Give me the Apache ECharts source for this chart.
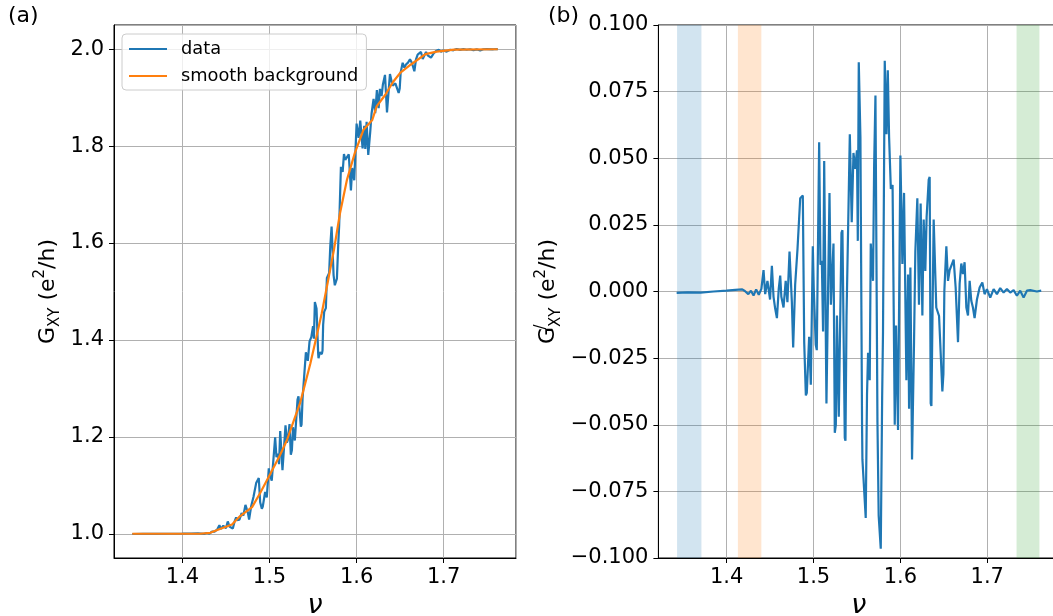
<!DOCTYPE html>
<html><head><meta charset="utf-8">
<script src="https://cdn.jsdelivr.net/npm/echarts@6/dist/echarts.min.js"></script>
<style>html,body{margin:0;padding:0;background:#fff}#c{width:1053px;height:616px}</style>
</head><body><div id="c"></div>
<script>
// filling factor samples (shared by data and fluctuation)
const nu = [1.3425,1.355,1.37,1.385,1.40,1.41,1.418,1.421,1.425,1.428,1.431,1.434,1.437,1.440,1.4425,1.4444,1.447,1.450,1.4521,1.454,1.4559,1.4579,1.460,1.4617,1.463,1.4655,1.468,1.470,1.4724,1.4751,1.4766,1.4789,1.4816,1.4847,1.4877,1.4893,1.4912,1.4923,1.4950,1.4969,1.4992,1.5003,1.5026,1.5038,1.5065,1.5080,1.5096,1.5110,1.5123,1.5149,1.5153,1.5184,1.5200,1.5211,1.5230,1.5245,1.5257,1.5270,1.5291,1.5322,1.5333,1.5360,1.5368,1.5380,1.5418,1.5440,1.5460,1.5480,1.5500,1.5510,1.5521,1.5540,1.5559,1.5563,1.5578,1.5601,1.5609,1.5616,1.5628,1.5647,1.5659,1.5685,1.5698,1.5713,1.5736,1.5750,1.5774,1.5790,1.5800,1.5820,1.5840,1.5855,1.5870,1.5890,1.5910,1.5935,1.5950,1.5973,1.6000,1.6023,1.6042,1.6069,1.6088,1.6100,1.6115,1.6134,1.6146,1.6157,1.6172,1.6195,1.6214,1.6233,1.6253,1.6268,1.6287,1.6302,1.6326,1.6337,1.6349,1.6357,1.6383,1.6395,1.6413,1.6445,1.6483,1.6490,1.6495,1.6506,1.6529,1.6548,1.6567,1.6590,1.6613,1.6636,1.6663,1.6682,1.6701,1.6720,1.6739,1.6759,1.6778,1.6797,1.6816,1.6835,1.6854,1.6881,1.6912,1.6943,1.6969,1.6996,1.7034,1.7073,1.7111,1.7149,1.7188,1.7226,1.7264,1.7303,1.7341,1.7379,1.7418,1.7456,1.7494,1.7571,1.7621];
// panel (a): measured G_XY
const gData = [0.9995,0.9997,0.9996,1.0000,1.0003,1.0006,1.0008,1.0004,0.9998,1.0016,1.0003,1.0043,1.0044,1.0088,1.0176,1.0099,1.0166,1.0115,1.0255,1.0151,1.0119,1.0107,1.0257,1.0339,1.0283,1.0291,1.0427,1.0374,1.0597,1.0443,1.0294,1.0561,1.0760,1.1046,1.1150,1.0650,1.0515,1.0563,1.0865,1.0750,1.1349,1.1226,1.1095,1.1117,1.1990,1.1582,1.1652,1.1436,1.2122,1.1312,1.1327,1.2238,1.1880,1.1936,1.2264,1.1631,1.1722,1.2199,1.1925,1.2770,1.2835,1.2208,1.2253,1.2799,1.3746,1.3570,1.3970,1.4059,1.4286,1.4024,1.4781,1.4650,1.3712,1.3624,1.3744,1.3709,1.3784,1.4314,1.4581,1.4656,1.5281,1.5384,1.5940,1.6342,1.5333,1.5129,1.5264,1.6003,1.6362,1.7572,1.7469,1.7838,1.7718,1.7695,1.7832,1.7085,1.7549,1.7297,1.8466,1.8169,1.8528,1.7954,1.8420,1.7940,1.8500,1.7818,1.7842,1.8304,1.8674,1.8974,1.8680,1.9157,1.8785,1.9181,1.9034,1.9273,1.9470,1.9511,1.8697,1.8711,1.9489,1.9525,1.9249,1.9294,1.9097,1.9118,1.9189,1.9522,1.9721,1.9618,1.9685,1.9723,1.9790,1.9716,1.9546,1.9790,1.9890,1.9874,1.9944,1.9800,1.9794,1.9943,1.9875,1.9857,1.9825,1.9905,1.9962,1.9989,1.9950,1.9974,1.9950,1.9990,1.9978,2.0004,1.9987,2.0001,1.9989,1.9999,1.9978,1.9998,1.9973,2.0000,2.0002,1.9999,2.0003];
// panel (b): fluctuation G'_XY
const gPrime = [-0.0005,-0.0003,-0.0004,0.0000,0.0003,0.0006,0.0008,0.0002,-0.0010,0.0003,-0.0015,0.0008,-0.0012,0.0010,0.0080,-0.0010,0.0040,-0.0030,0.0096,-0.0020,-0.0064,-0.0100,0.0010,0.0060,-0.0020,-0.0060,0.0040,-0.0040,0.0150,-0.0040,-0.0210,0.0026,0.0160,0.0350,0.0360,-0.0190,-0.0390,-0.0380,-0.0170,-0.0350,0.0170,0.0010,-0.0200,-0.0220,0.0560,0.0100,0.0115,-0.0150,0.0490,-0.0420,-0.0420,0.0370,-0.0050,-0.0050,0.0180,-0.0530,-0.0500,-0.0090,-0.0470,0.0220,0.0230,-0.0550,-0.0560,-0.0096,0.0590,0.0260,0.0520,0.0460,0.0530,0.0190,0.0860,0.0580,-0.0510,-0.0630,-0.0630,-0.0850,-0.0850,-0.0385,-0.0230,-0.0333,0.0180,0.0040,0.0474,0.0735,-0.0490,-0.0840,-0.0965,-0.0400,-0.0150,0.0866,0.0590,0.0830,0.0580,0.0385,0.0400,-0.0500,-0.0128,-0.0520,0.0510,0.0103,0.0370,-0.0333,0.0064,-0.0440,0.0090,-0.0630,-0.0630,-0.0190,0.0150,0.0350,-0.0050,0.0330,-0.0090,0.0270,0.0077,0.0280,0.0420,0.0430,-0.0420,-0.0430,0.0270,0.0270,-0.0060,-0.0092,-0.0375,-0.0370,-0.0310,0.0003,0.0170,0.0040,0.0080,0.0085,0.0120,0.0015,-0.0190,0.0030,0.0105,0.0065,0.0110,-0.0060,-0.0090,0.0040,-0.0035,-0.0060,-0.0100,-0.0030,0.0015,0.0034,-0.0010,0.0009,-0.0023,0.0009,-0.0010,0.0013,-0.0004,0.0009,-0.0004,0.0005,-0.0016,0.0003,-0.0023,0.0003,0.0005,0.0000,0.0003];
// smooth background curve
const bgNu = [1.3425,1.420,1.432,1.443,1.457,1.466,1.480,1.489,1.501,1.512,1.520,1.528,1.535,1.541,1.547,1.554,1.560,1.566,1.574,1.581,1.589,1.598,1.608,1.618,1.623,1.633,1.642,1.650,1.662,1.679,1.692,1.712,1.7621];
const bgG = [1.000,1.000,1.002,1.010,1.019,1.036,1.055,1.083,1.124,1.162,1.193,1.234,1.269,1.310,1.352,1.407,1.455,1.511,1.586,1.662,1.731,1.786,1.834,1.854,1.882,1.906,1.933,1.951,1.968,1.990,1.995,1.999,2.000];
// shaded windows in panel (b)
const bandStart = [1.343, 1.413, 1.7337];
const bandEnd = [1.371, 1.440, 1.760];
const bandColors = ['rgba(31,119,180,0.2)','rgba(255,127,14,0.2)','rgba(44,160,44,0.2)'];

const FONT = 'DejaVu Sans';
const chart = echarts.init(document.getElementById('c'));
const axisLabelStyle = {fontFamily: FONT, fontSize: 21, color: '#000'};
function xAx(gi){
  return {type:'value', gridIndex:gi, min:1.3215, max:1.783, splitNumber:5,
    name:'ν', nameLocation:'middle', nameGap:31,
    nameTextStyle:{fontFamily:FONT, fontSize:27, fontStyle:'italic', color:'#000'},
    axisLine:{show:true, onZero:false, lineStyle:{color:'#000', width:1}},
    axisTick:{show:true, length:5, lineStyle:{color:'#000'}},
    axisLabel:Object.assign({margin:9, showMinLabel:false, showMaxLabel:false, formatter:v=>v.toFixed(1)}, axisLabelStyle),
    splitLine:{show:true, lineStyle:{color:'#b0b0b0', width:1}}};
}
const richY = {
  g:{fontFamily:FONT, fontSize:22, color:'#000', lineHeight:30},
  n:{fontFamily:FONT, fontSize:22, color:'#000', lineHeight:30},
  sub:{fontFamily:FONT, fontSize:15, color:'#000', verticalAlign:'bottom', lineHeight:15},
  sup:{fontFamily:FONT, fontSize:15, color:'#000', verticalAlign:'top', lineHeight:15},
  supz:{fontFamily:FONT, fontSize:15, color:'#000', verticalAlign:'top', lineHeight:15, width:0}
};
const option = {
  animation:false,
  backgroundColor:'#fff',
  title:[
    {text:'(a)', left:3, top:0, textStyle:{fontFamily:FONT, fontSize:22, fontWeight:'normal', color:'#000'}},
    {text:'(b)', left:543, top:0, textStyle:{fontFamily:FONT, fontSize:22, fontWeight:'normal', color:'#000'}}
  ],
  legend:{
    data:['data','smooth background'], orient:'vertical', left:122, top:34,
    icon:'rect', itemWidth:38, itemHeight:2, itemGap:9,
    padding:[6,8,5,7], borderColor:'#cccccc', borderWidth:1, borderRadius:4,
    backgroundColor:'rgba(255,255,255,0.8)',
    textStyle:{fontFamily:FONT, fontSize:17.8, color:'#000', padding:[0,0,0,9]}
  },
  grid:[
    {left:114, top:25, width:402, height:533, show:true, borderColor:'#000', borderWidth:1, backgroundColor:'transparent', outerBoundsMode:'none', containLabel:false},
    {left:658.4, top:25, width:401, height:533, show:true, borderColor:'#000', borderWidth:1, backgroundColor:'transparent', outerBoundsMode:'none', containLabel:false}
  ],
  xAxis:[xAx(0), xAx(1)],
  yAxis:[
    {type:'value', gridIndex:0, min:0.95, max:2.05, splitNumber:5,
     name:'{g|G}{sub|XY}{n| (e}{sup|2}{n|/h)}', nameLocation:'middle', nameGap:51,
     nameTextStyle:{rich:richY},
     axisLine:{show:true, onZero:false, lineStyle:{color:'#000'}},
     axisTick:{show:true, length:5, lineStyle:{color:'#000'}},
     axisLabel:Object.assign({margin:10, showMinLabel:false, showMaxLabel:false, formatter:v=>v.toFixed(1)}, axisLabelStyle),
     splitLine:{show:true, lineStyle:{color:'#b0b0b0', width:1}}},
    {type:'value', gridIndex:1, min:-0.1, max:0.1, interval:0.025,
     name:'{g|G}{supz|/}{sub|XY}{n| (e}{sup|2}{n|/h)}', nameLocation:'middle', nameGap:95,
     nameTextStyle:{rich:richY},
     axisLine:{show:true, onZero:false, lineStyle:{color:'#000'}},
     axisTick:{show:true, length:5, lineStyle:{color:'#000'}},
     axisLabel:Object.assign({margin:10, formatter:v=>{const s=Math.abs(v).toFixed(3); return (v < -1e-9 ? '\u2212' : '') + s;}}, axisLabelStyle),
     splitLine:{show:true, lineStyle:{color:'#b0b0b0', width:1}}}
  ],
  series:[
    {name:'data', type:'line', xAxisIndex:0, yAxisIndex:0, symbol:'none',
     lineStyle:{color:'#1f77b4', width:2.2}, itemStyle:{color:'#1f77b4'},
     data:nu.map((v,i)=>[v,gData[i]]), z:2},
    {name:'smooth background', type:'line', xAxisIndex:0, yAxisIndex:0, symbol:'none',
     lineStyle:{color:'#ff7f0e', width:2.2}, itemStyle:{color:'#ff7f0e'},
     data:bgNu.map((v,i)=>[v,bgG[i]]), z:3},
    {name:'fluct', type:'line', xAxisIndex:1, yAxisIndex:1, symbol:'none',
     lineStyle:{color:'#1f77b4', width:2.2}, itemStyle:{color:'#1f77b4'},
     data:nu.map((v,i)=>[v,gPrime[i]]), z:3,
     markArea:{silent:true, data:bandStart.map((s,i)=>[{xAxis:s, itemStyle:{color:bandColors[i]}},{xAxis:bandEnd[i]}])}}
  ]
};
chart.setOption(option);
</script></body></html>
